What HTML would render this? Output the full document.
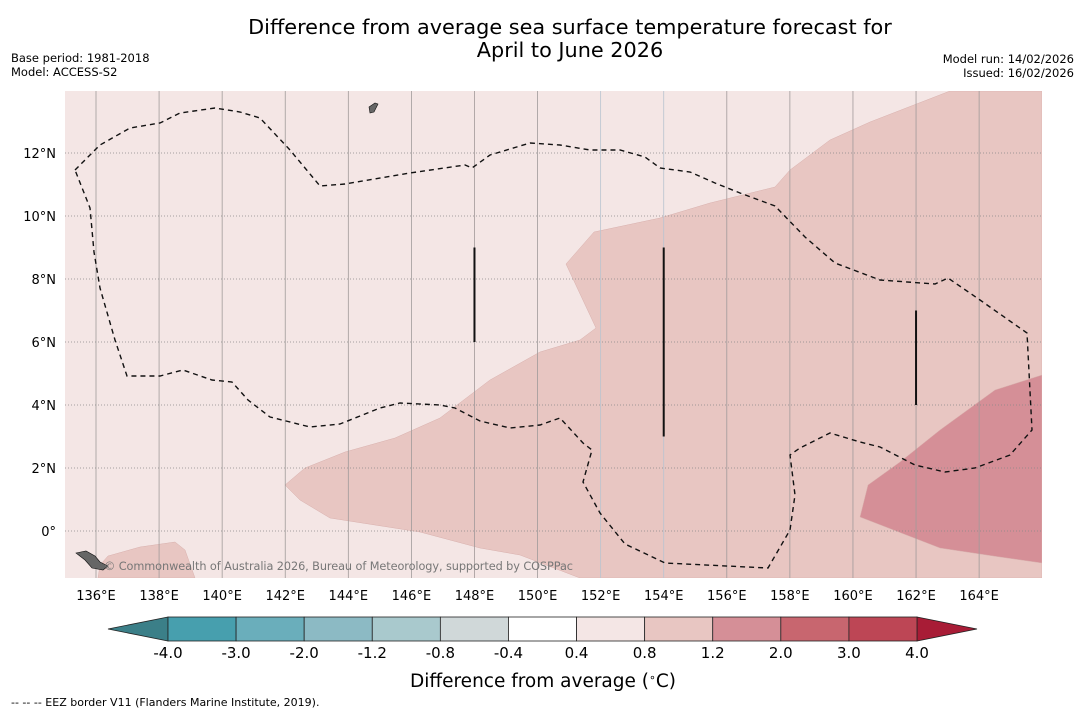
<!DOCTYPE html>
<html><head><meta charset="utf-8"><style>
body{margin:0;background:#fff;font-family:"Liberation Sans","DejaVu Sans",sans-serif;}
</style></head><body>
<svg width="1085" height="713" xmlns="http://www.w3.org/2000/svg" font-family="DejaVu Sans, Liberation Sans, sans-serif">
<text x="570" y="34" text-anchor="middle" font-size="20.8">Difference from average sea surface temperature forecast for</text>
<text x="570" y="57" text-anchor="middle" font-size="20.8">April to June 2026</text>
<text x="11" y="62" font-size="11.5">Base period: 1981-2018</text>
<text x="11" y="76" font-size="11.5">Model: ACCESS-S2</text>
<text x="1074" y="63" font-size="11.5" text-anchor="end">Model run: 14/02/2026</text>
<text x="1074" y="77" font-size="11.5" text-anchor="end">Issued: 16/02/2026</text>
<g id="map"></g>
<g id="cbar"></g>
<text x="543" y="687" text-anchor="middle" font-size="18.5">Difference from average (<tspan baseline-shift="super" font-size="11">∘</tspan>C)</text>
<text x="11" y="706" font-size="11">--  --  -- EEZ border V11 (Flanders Marine Institute, 2019).</text>
</svg>
<script>
const lonTicks=[136,138,140,142,144,146,148,150,152,154,156,158,160,162,164];
const latTicks=[0,2,4,6,8,10,12];
const cbLevels=["-4.0","-3.0","-2.0","-1.2","-0.8","-0.4","0.4","0.8","1.2","2.0","3.0","4.0"];
const cbColors=["#479fae","#6aaebb","#8cbac4","#a9c9cd","#d0d8d9","#ffffff","#f4e6e5","#e8c6c2","#d58f97","#c8666f","#bd4655"];
const markerLons=[148,154,162];
const markerLat0=[6,3,4];
const markerLat1=[9,9,7];
const NS="http://www.w3.org/2000/svg";
const X0=65,X1=1042,Y0=91,Y1=578;
function xs(lon){return 96+(lon-136)*31.54;}
function ys(lat){return 531-lat*31.5;}
function px2ll(p){return p.map(([x,y])=>[136+(x-96)/31.54,(531-y)/31.5]);}
const reg12=px2ll([[285,485],[305,468],[345,452],[395,438],[440,418],[490,380],[540,352],[580,340],[596,328],[566,264],[594,232],[660,218],[710,203],[775,187],[790,170],[830,140],[870,122],[950,91],[1042,91],[1042,578],[580,578],[520,555],[480,548],[420,532],[330,518],[300,500]]);
const regSW=px2ll([[108,556],[140,547],[175,542],[185,550],[195,578],[98,578],[100,565]]);
const reg20=px2ll([[868,485],[900,462],[940,430],[995,390],[1042,375],[1042,563],[1000,557],[940,548],[860,517]]);
const eez=px2ll([[75,170],[100,145],[130,128],[160,123],[180,113],[215,108],[240,112],[260,118],[290,150],[320,186],[345,184],[410,173],[465,165],[472,168],[490,155],[530,143],[560,145],[590,150],[620,150],[645,157],[660,168],[690,172],[715,183],[740,193],[775,206],[805,237],[835,263],[880,280],[935,284],[948,278],[980,300],[1027,333],[1032,430],[1010,455],[975,468],[945,472],[915,465],[880,447],[860,442],[830,433],[800,448],[790,455],[795,495],[790,530],[768,568],[665,563],[625,544],[600,513],[583,482],[592,450],[583,443],[560,418],[540,425],[510,428],[480,421],[455,408],[440,405],[400,403],[380,408],[340,424],[310,427],[270,417],[248,400],[232,382],[212,380],[183,370],[160,376],[127,376],[115,340],[100,288],[94,252],[90,208],[75,170]]);
function el(parent,tag,attrs){const e=document.createElementNS(NS,tag);for(const k in attrs)e.setAttribute(k,attrs[k]);parent.appendChild(e);return e;}
function pts(a){return a.map(([lo,la])=>xs(lo).toFixed(1)+","+ys(la).toFixed(1)).join(" ");}
const map=document.getElementById('map');
const defs=el(map,'defs',{});const cp=el(defs,'clipPath',{id:'clip'});el(cp,'rect',{x:X0,y:Y0,width:X1-X0,height:Y1-Y0});
const bg=el(map,'rect',{x:X0,y:Y0,width:X1-X0,height:Y1-Y0,fill:'#f4e6e5'});


const g=el(map,'g',{'clip-path':'url(#clip)'});
[[reg12,'#e8c6c2','anomaly-region-0.8-1.2'],[regSW,'#e8c6c2','anomaly-region-southwest'],[reg20,'#d58f97','anomaly-region-1.2-2.0']].forEach(([p,c,n])=>{
 const e=el(g,'polygon',{points:pts(p),fill:c,stroke:'#d8b0ad','stroke-width':0.5});
 
 
});
lonTicks.forEach(l=>{
 const e=el(g,'line',{x1:xs(l),x2:xs(l),y1:Y0,y2:Y1,stroke:(l==152||l==154)?'#b8c4d0':'#a09a9a','stroke-width':0.8});
 
 
 const t=el(map,'text',{x:xs(l),y:600,'text-anchor':'middle','font-size':13});t.textContent=l+'°E';
 
 
});
latTicks.forEach(l=>{
 const e=el(g,'line',{x1:X0,x2:X1,y1:ys(l),y2:ys(l),stroke:'#888','stroke-width':0.8,'stroke-dasharray':'1,2'});
 
 
 const t=el(map,'text',{x:56,y:ys(l)+5,'text-anchor':'end','font-size':13});t.textContent=l==0?'0°':l+'°N';
 
 
});
const ez=el(g,'polyline',{points:pts(eez),fill:'none',stroke:'#111','stroke-width':1.4,'stroke-dasharray':'5,4'});


markerLons.forEach((l,i)=>{
 const e=el(g,'line',{x1:xs(l),x2:xs(l),y1:ys(markerLat0[i]),y2:ys(markerLat1[i]),stroke:'#111','stroke-width':2});
 
 
});
const isl=el(g,'polygon',{points:'76,553 86,551 95,556 100,562 108,566 103,570 92,568 85,560',fill:'#666',stroke:'#111','stroke-width':0.6});


const isl2=el(g,'polygon',{points:'369,107 375,103 378,104 374,112 370,113',fill:'#666',stroke:'#111','stroke-width':0.6});


const cr=el(map,'text',{x:104,y:570,'font-size':11.3,fill:'#777','textLength':469});cr.textContent='© Commonwealth of Australia 2026, Bureau of Meteorology, supported by COSPPac';


// colorbar
const cb=document.getElementById('cbar');
const cbL=168,cbR=917,cbT=617,cbB=641,w=(cbR-cbL)/cbColors.length;
const lt=el(cb,'polygon',{points:`${cbL},${cbT} 108,${(cbT+cbB)/2} ${cbL},${cbB}`,fill:'#3b7f88',stroke:'#222','stroke-width':0.8});


const rt=el(cb,'polygon',{points:`${cbR},${cbT} 977,${(cbT+cbB)/2} ${cbR},${cbB}`,fill:'#a81c36',stroke:'#222','stroke-width':0.8});


cbColors.forEach((c,i)=>{
 const r=el(cb,'rect',{x:cbL+i*w,y:cbT,width:w,height:cbB-cbT,fill:c,stroke:'#222','stroke-width':0.8});
 
 
});
cbLevels.forEach((s,i)=>{
 const t=el(cb,'text',{x:cbL+i*w,y:658,'text-anchor':'middle','font-size':15});t.textContent=s;
 
 
});
</script>
</body></html>
